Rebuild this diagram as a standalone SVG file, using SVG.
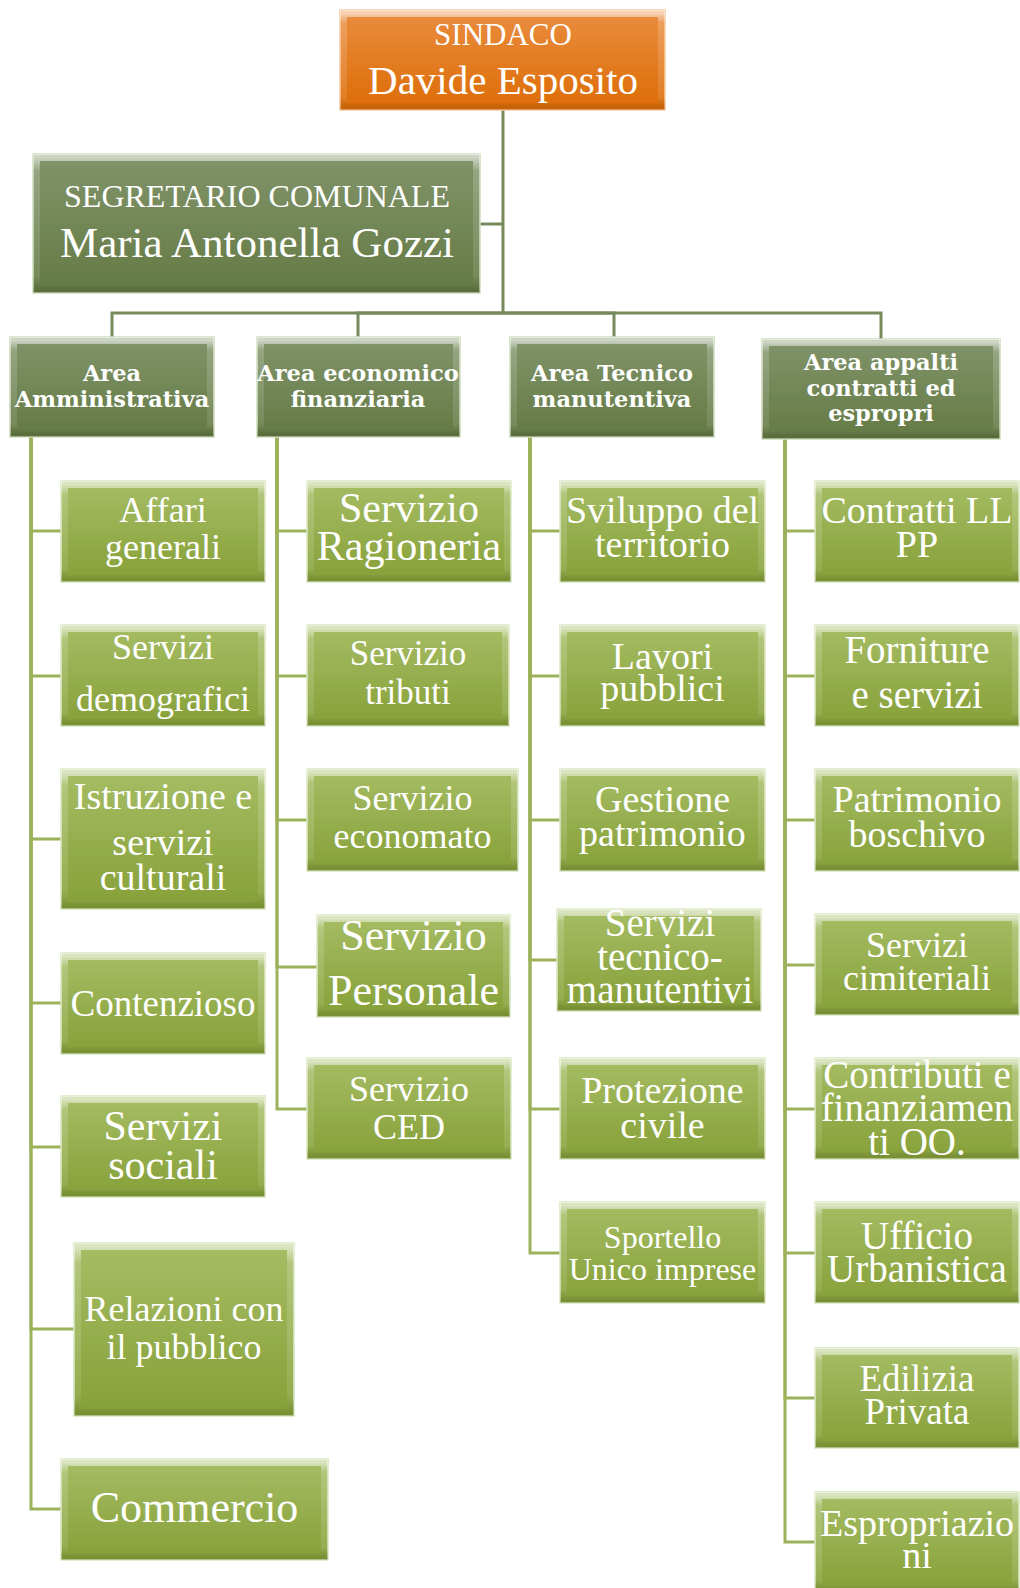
<svg xmlns="http://www.w3.org/2000/svg" width="1020" height="1588" viewBox="0 0 1020 1588">
<defs>
<linearGradient id="gLeaf" x1="0" y1="0" x2="0" y2="1"><stop offset="0" stop-color="#a6bd64"/><stop offset="1" stop-color="#86a038"/></linearGradient>
<linearGradient id="gArea" x1="0" y1="0" x2="0" y2="1"><stop offset="0" stop-color="#81946b"/><stop offset="1" stop-color="#647a43"/></linearGradient>
<linearGradient id="gTop" x1="0" y1="0" x2="0" y2="1"><stop offset="0" stop-color="#ea8d40"/><stop offset="1" stop-color="#dd6c05"/></linearGradient>
<linearGradient id="gBevel" x1="0" y1="0" x2="0" y2="1"><stop offset="0" stop-color="#fff" stop-opacity=".6"/><stop offset=".1" stop-color="#fff" stop-opacity=".18"/><stop offset=".9" stop-color="#fff" stop-opacity=".1"/><stop offset="1" stop-color="#000" stop-opacity=".1"/></linearGradient>
</defs>
<style>
.box{stroke-width:1.5}
.leaf .box{fill:url(#gLeaf);stroke:#d9e6c0}
.area .box{fill:url(#gArea);stroke:#cfdcbc}
.top .box{fill:url(#gTop);stroke:#f6c89a}
.bv{fill:none;stroke:url(#gBevel);stroke-width:7}
text{fill:#fff;text-anchor:middle;font-family:"Liberation Serif","DejaVu Serif",serif}
.area text{font-family:"DejaVu Serif",serif;font-weight:bold;font-size:22.5px}
.area text.plain{font-family:"Liberation Serif",serif;font-weight:normal}
.c1{fill:none;stroke:#778a5b;stroke-width:3}
.c2{fill:none;stroke:#9bb25a;stroke-width:3}
</style>

<g id="connectors">
<path class="c1" d="M503 110 V313 H112 V337"/>
<path class="c1" d="M503 313 H358 V337"/>
<path class="c1" d="M503 313 H614 V337"/>
<path class="c1" d="M503 313 H881 V339"/>
<path class="c1" d="M480 224 H503"/>
<path class="c2" d="M31 437 V531 H61"/>
<path class="c2" d="M31 437 V676 H61"/>
<path class="c2" d="M31 437 V839 H61"/>
<path class="c2" d="M31 437 V1003 H61"/>
<path class="c2" d="M31 437 V1147 H61"/>
<path class="c2" d="M31 437 V1329 H74"/>
<path class="c2" d="M31 437 V1509 H61"/>
<path class="c2" d="M277 437 V531 H307"/>
<path class="c2" d="M277 437 V676 H307"/>
<path class="c2" d="M277 437 V820 H307"/>
<path class="c2" d="M277 437 V967 H317"/>
<path class="c2" d="M277 437 V1109 H307"/>
<path class="c2" d="M530 437 V531 H560"/>
<path class="c2" d="M530 437 V676 H560"/>
<path class="c2" d="M530 437 V820 H560"/>
<path class="c2" d="M530 437 V960 H557"/>
<path class="c2" d="M530 437 V1109 H560"/>
<path class="c2" d="M530 437 V1253 H560"/>
<path class="c2" d="M785 439 V531 H815"/>
<path class="c2" d="M785 439 V676 H815"/>
<path class="c2" d="M785 439 V820 H815"/>
<path class="c2" d="M785 439 V965 H815"/>
<path class="c2" d="M785 439 V1109 H815"/>
<path class="c2" d="M785 439 V1253 H815"/>
<path class="c2" d="M785 439 V1398 H815"/>
<path class="c2" d="M785 439 V1542 H815"/>
</g>

<g id="sindaco" class="top"><rect class="box" x="340" y="10" width="325" height="100"/><rect class="bv" x="343.5" y="13.5" width="318" height="93"/>
<text x="503" y="45" font-size="31">SINDACO</text><text x="503" y="94" font-size="41">Davide Esposito</text></g>

<g id="segretario" class="area"><rect class="box" x="33" y="154" width="447" height="139"/><rect class="bv" x="36.5" y="157.5" width="440" height="132"/>
<text class="plain" x="257" y="207" style="font-size:32px">SEGRETARIO COMUNALE</text><text class="plain" x="257" y="257" style="font-size:43px">Maria Antonella Gozzi</text></g>

<g id="area-amministrativa" class="area"><rect class="box" x="10" y="337" width="204" height="100"/><rect class="bv" x="13.5" y="340.5" width="197" height="93"/>
<text x="112" y="381">Area</text><text x="112" y="407">Amministrativa</text></g>
<g id="area-economico" class="area"><rect class="box" x="257" y="337" width="203" height="100"/><rect class="bv" x="260.5" y="340.5" width="196" height="93"/>
<text x="358" y="381">Area economico</text><text x="358" y="407">finanziaria</text></g>
<g id="area-tecnico" class="area"><rect class="box" x="510" y="337" width="204" height="100"/><rect class="bv" x="513.5" y="340.5" width="197" height="93"/>
<text x="612" y="381">Area Tecnico</text><text x="612" y="407">manutentiva</text></g>
<g id="area-appalti" class="area"><rect class="box" x="762" y="339" width="238" height="100"/><rect class="bv" x="765.5" y="342.5" width="231" height="93"/>
<text x="881" y="370">Area appalti</text><text x="881" y="396">contratti ed</text><text x="881" y="421">espropri</text></g>

<g id="affari-generali" class="leaf"><rect class="box" x="61" y="481" width="204" height="101"/><rect class="bv" x="64.5" y="484.5" width="197" height="94"/>
<text x="163" y="522" font-size="36">Affari</text><text x="163" y="559" font-size="36">generali</text></g>
<g id="servizi-demografici" class="leaf"><rect class="box" x="61" y="625" width="204" height="101"/><rect class="bv" x="64.5" y="628.5" width="197" height="94"/>
<text x="163" y="659" font-size="36">Servizi</text><text x="163" y="711" font-size="36">demografici</text></g>
<g id="istruzione" class="leaf"><rect class="box" x="61" y="769" width="204" height="140"/><rect class="bv" x="64.5" y="772.5" width="197" height="133"/>
<text x="163" y="809" font-size="38">Istruzione e</text><text x="163" y="855" font-size="38">servizi</text><text x="163" y="890" font-size="38">culturali</text></g>
<g id="contenzioso" class="leaf"><rect class="box" x="61" y="953" width="204" height="101"/><rect class="bv" x="64.5" y="956.5" width="197" height="94"/>
<text x="163" y="1016" font-size="37">Contenzioso</text></g>
<g id="servizi-sociali" class="leaf"><rect class="box" x="61" y="1096" width="204" height="101"/><rect class="bv" x="64.5" y="1099.5" width="197" height="94"/>
<text x="163" y="1140" font-size="42">Servizi</text><text x="163" y="1179" font-size="42">sociali</text></g>
<g id="relazioni-pubblico" class="leaf"><rect class="box" x="74" y="1243" width="220" height="173"/><rect class="bv" x="77.5" y="1246.5" width="213" height="166"/>
<text x="184" y="1321" font-size="36">Relazioni con</text><text x="184" y="1359" font-size="36">il pubblico</text></g>
<g id="commercio" class="leaf"><rect class="box" x="61" y="1459" width="267" height="101"/><rect class="bv" x="64.5" y="1462.5" width="260" height="94"/>
<text x="194.5" y="1522" font-size="44">Commercio</text></g>

<g id="servizio-ragioneria" class="leaf"><rect class="box" x="307" y="481" width="204" height="101"/><rect class="bv" x="310.5" y="484.5" width="197" height="94"/>
<text x="409" y="522" font-size="42">Servizio</text><text x="409" y="560" font-size="42">Ragioneria</text></g>
<g id="servizio-tributi" class="leaf"><rect class="box" x="307" y="625" width="202" height="101"/><rect class="bv" x="310.5" y="628.5" width="195" height="94"/>
<text x="408" y="665" font-size="35">Servizio</text><text x="408" y="704" font-size="35">tributi</text></g>
<g id="servizio-economato" class="leaf"><rect class="box" x="307" y="769" width="211" height="102"/><rect class="bv" x="310.5" y="772.5" width="204" height="95"/>
<text x="412.5" y="810" font-size="36">Servizio</text><text x="412.5" y="848" font-size="36">economato</text></g>
<g id="servizio-personale" class="leaf"><rect class="box" x="317" y="915" width="193" height="102"/><rect class="bv" x="320.5" y="918.5" width="186" height="95"/>
<text x="413.5" y="950" font-size="44">Servizio</text><text x="413.5" y="1005" font-size="44">Personale</text></g>
<g id="servizio-ced" class="leaf"><rect class="box" x="307" y="1058" width="204" height="101"/><rect class="bv" x="310.5" y="1061.5" width="197" height="94"/>
<text x="409" y="1101" font-size="36">Servizio</text><text x="409" y="1139" font-size="36">CED</text></g>

<g id="sviluppo-territorio" class="leaf"><rect class="box" x="560" y="481" width="205" height="101"/><rect class="bv" x="563.5" y="484.5" width="198" height="94"/>
<text x="662.5" y="523" font-size="38">Sviluppo del</text><text x="662.5" y="557" font-size="38">territorio</text></g>
<g id="lavori-pubblici" class="leaf"><rect class="box" x="560" y="625" width="205" height="101"/><rect class="bv" x="563.5" y="628.5" width="198" height="94"/>
<text x="662.5" y="669" font-size="38">Lavori</text><text x="662.5" y="701" font-size="38">pubblici</text></g>
<g id="gestione-patrimonio" class="leaf"><rect class="box" x="560" y="769" width="205" height="102"/><rect class="bv" x="563.5" y="772.5" width="198" height="95"/>
<text x="662.5" y="812" font-size="38">Gestione</text><text x="662.5" y="846" font-size="38">patrimonio</text></g>
<g id="servizi-tecnico" class="leaf"><rect class="box" x="557" y="909" width="204" height="102"/><rect class="bv" x="560.5" y="912.5" width="197" height="95"/>
<text x="660" y="936" font-size="39">Servizi</text><text x="660" y="970" font-size="39">tecnico-</text><text x="660" y="1003" font-size="39">manutentivi</text></g>
<g id="protezione-civile" class="leaf"><rect class="box" x="560" y="1058" width="205" height="101"/><rect class="bv" x="563.5" y="1061.5" width="198" height="94"/>
<text x="662.5" y="1103" font-size="38">Protezione</text><text x="662.5" y="1138" font-size="38">civile</text></g>
<g id="sportello-unico" class="leaf"><rect class="box" x="560" y="1202" width="205" height="101"/><rect class="bv" x="563.5" y="1205.5" width="198" height="94"/>
<text x="662.5" y="1248" font-size="32">Sportello</text><text x="662.5" y="1280" font-size="32">Unico imprese</text></g>

<g id="contratti-llpp" class="leaf"><rect class="box" x="815" y="481" width="204" height="101"/><rect class="bv" x="818.5" y="484.5" width="197" height="94"/>
<text x="917" y="523" font-size="38">Contratti LL</text><text x="917" y="557" font-size="38">PP</text></g>
<g id="forniture-servizi" class="leaf"><rect class="box" x="815" y="625" width="204" height="101"/><rect class="bv" x="818.5" y="628.5" width="197" height="94"/>
<text x="917" y="663" font-size="39">Forniture</text><text x="917" y="708" font-size="39">e servizi</text></g>
<g id="patrimonio-boschivo" class="leaf"><rect class="box" x="815" y="769" width="204" height="102"/><rect class="bv" x="818.5" y="772.5" width="197" height="95"/>
<text x="917" y="812" font-size="38">Patrimonio</text><text x="917" y="847" font-size="38">boschivo</text></g>
<g id="servizi-cimiteriali" class="leaf"><rect class="box" x="815" y="914" width="204" height="101"/><rect class="bv" x="818.5" y="917.5" width="197" height="94"/>
<text x="917" y="957" font-size="36">Servizi</text><text x="917" y="990" font-size="36">cimiteriali</text></g>
<g id="contributi" class="leaf"><rect class="box" x="815" y="1058" width="204" height="101"/><rect class="bv" x="818.5" y="1061.5" width="197" height="94"/>
<text x="917" y="1088" font-size="39">Contributi e</text><text x="917" y="1121" font-size="39">finanziamen</text><text x="917" y="1155" font-size="39">ti OO.</text></g>
<g id="ufficio-urbanistica" class="leaf"><rect class="box" x="815" y="1202" width="204" height="101"/><rect class="bv" x="818.5" y="1205.5" width="197" height="94"/>
<text x="917" y="1249" font-size="39">Ufficio</text><text x="917" y="1282" font-size="39">Urbanistica</text></g>
<g id="edilizia-privata" class="leaf"><rect class="box" x="815" y="1348" width="204" height="100"/><rect class="bv" x="818.5" y="1351.5" width="197" height="93"/>
<text x="917" y="1391" font-size="37">Edilizia</text><text x="917" y="1424" font-size="37">Privata</text></g>
<g id="espropriazioni" class="leaf"><rect class="box" x="815" y="1492" width="204" height="101"/><rect class="bv" x="818.5" y="1495.5" width="197" height="94"/>
<text x="917" y="1536" font-size="38">Espropriazio</text><text x="917" y="1568" font-size="38">ni</text></g>
</svg>
